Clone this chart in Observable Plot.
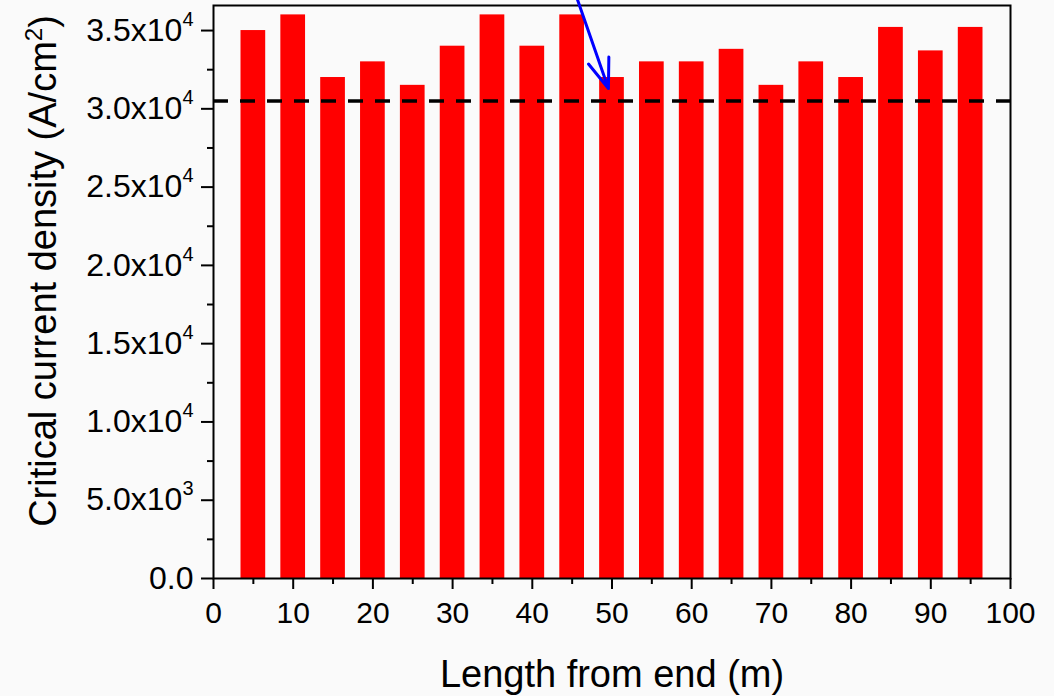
<!DOCTYPE html>
<html><head><meta charset="utf-8">
<script src="https://cdn.jsdelivr.net/npm/d3@7"></script>
<script src="https://cdn.jsdelivr.net/npm/@observablehq/plot@0.6"></script>
<style>
html,body{margin:0;padding:0;background:#fafafa;}
svg{display:block;}
</style></head><body><div id="chart"></div>
<script>
// Data
const positions = [5,10,15,20,25,30,35,40,45,50,55,60,65,70,75,80,85,90,95];
const jc = [35000,36000,32000,33000,31500,34000,36000,34000,36000,32000,33000,33000,33800,31500,33000,32000,35200,33700,35200];
const threshold = [30500];
const xTicks = [0,10,20,30,40,50,60,70,80,90,100];
const xMinorTicks = [5,15,25,35,45,55,65,75,85,95];
const yTicks = [0,5000,10000,15000,20000,25000,30000,35000];
const yTickLabels = ["0.0","5.0x10|3","1.0x10|4","1.5x10|4","2.0x10|4","2.5x10|4","3.0x10|4","3.5x10|4"];
const yMinorTicks = [2500,7500,12500,17500,22500,27500,32500];
const arrowStart = {x: 45.65, y: 37000};
const arrowEnd = {x: 49.55, y: 31300};
const xTitle = "Length from end (m)";
const yTitle = "Critical current density (A/cm|2|)";

const bars = positions.map((p, i) => ({pos: p, jc: jc[i]}));
const halfWidth = 1.55;
const font = "'Liberation Sans', Arial, Helvetica, sans-serif";

const svg = Plot.plot({
  width: 1054,
  height: 696,
  marginLeft: 213,
  marginRight: 44,
  marginTop: 5,
  marginBottom: 118,
  style: {fontFamily: font, background: "transparent", color: "black"},
  x: {domain: [0, 100]},
  y: {domain: [0, 36600]},
  marks: [
    Plot.rectY(bars, {x1: d => d.pos - halfWidth, x2: d => d.pos + halfWidth, y1: 0, y2: "jc", fill: "#ff0000"}),
    Plot.ruleY(threshold, {stroke: "black", strokeWidth: 3.5, strokeDasharray: "15,12"}),
    Plot.axisX({ticks: xTicks, tickSize: 11, tickPadding: 12, strokeWidth: 2, fontSize: 30, label: null}),
    Plot.axisX({ticks: xMinorTicks, tickSize: 6, strokeWidth: 2, tickFormat: () => "", label: null}),
    Plot.axisY({ticks: yTicks, tickSize: 12, tickPadding: 8, strokeWidth: 2, fontSize: 32, label: null,
      tickFormat: d => yTickLabels[yTicks.indexOf(d)]}),
    Plot.axisY({ticks: yMinorTicks, tickSize: 6, strokeWidth: 2, tickFormat: () => "", label: null}),
    Plot.frame({stroke: "black", strokeWidth: 2}),
    Plot.arrow([{x1: arrowStart.x, y1: arrowStart.y, x2: arrowEnd.x, y2: arrowEnd.y}],
      {x1: "x1", y1: "y1", x2: "x2", y2: "y2", stroke: "#0000ff", strokeWidth: 3, headLength: 28, headAngle: 40}),
    Plot.text([xTitle], {text: d => d, frameAnchor: "bottom", lineAnchor: "middle", textAnchor: "middle", dy: 96, fontSize: 38}),
    Plot.text([yTitle], {text: d => d, frameAnchor: "left", lineAnchor: "middle", textAnchor: "middle", rotate: -90, dx: -170, dy: -21, fontSize: 38})
  ]
});

// superscript exponents on y tick labels
d3.select(svg).selectAll('g[aria-label="y-axis tick label"] text').each(function() {
  const t = this.textContent;
  if (t.includes("|")) {
    const [m, e] = t.split("|");
    this.textContent = m;
    d3.select(this).append("tspan").attr("dy", "-15").attr("font-size", 20).text(e);
  }
});
// superscript in the y title
d3.select(svg).selectAll("text").each(function() {
  const t = this.textContent;
  if (t === yTitle) {
    const [a, sup, b] = t.split("|");
    this.textContent = a;
    const s = d3.select(this);
    s.append("tspan").attr("dy", "-14").attr("font-size", 24).text(sup);
    s.append("tspan").attr("dy", "14").text(b);
  }
});

document.getElementById("chart").appendChild(svg);
</script>
</body></html>
